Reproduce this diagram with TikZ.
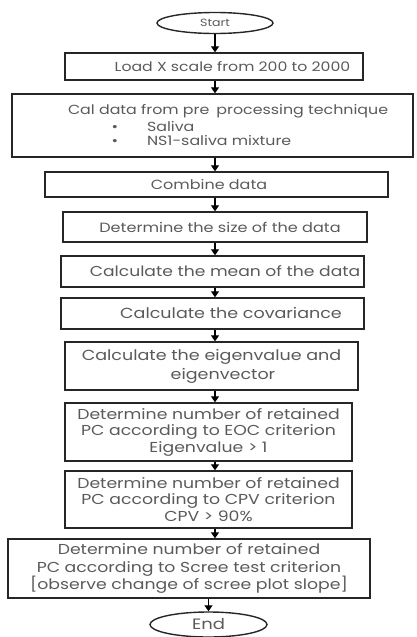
\documentclass[tikz,border=0pt]{standalone}
\usepackage{fontspec}
\setmainfont{Poppins}[FakeStretch=1.2]
\usetikzlibrary{arrows.meta,shapes.geometric}
\definecolor{txt}{HTML}{5A5A5A}
\tikzset{
  stepbox/.style={draw=black!85, line width=1.4pt, inner sep=0pt, align=center, text=txt},
  term/.style={ellipse, draw=black!85, line width=1.4pt, inner sep=0pt, text=txt},
  txtonly/.style={inner sep=0pt, outer sep=0pt, text=txt},
  flow/.style={line width=1.2pt, -{Triangle[width=8pt,length=6pt]}},
  fsz/.style={font={\fontsize{#1}{#1}\selectfont}},
  fsb/.style={font={\fontsize{14.4}{#1}\selectfont}},
}
\begin{document}
\begin{tikzpicture}[x=1pt,y=-1pt]
\useasboundingbox (0,0) rectangle (417,637);
\node[term, minimum width=116pt, minimum height=21pt, fsz=10.5] (start) at (215,23) {Start};
\node[stepbox, minimum width=298pt, minimum height=27pt, fsz=13.1] (load) at (214,66.5) {\hspace*{37pt}Load X scale from 200 to 2000};
\node[stepbox, minimum width=401pt, minimum height=63pt] (call) at (212.5,125.5) {};
\node[txtonly, fsz=13.2, anchor=base west] (c1) at (68,114.5) {Cal data from pre\hspace{7pt}processing technique};
\node[txtonly, fsz=13.2, anchor=base] (b1) at (115,131.5) {\textbullet};
\node[txtonly, fsz=13.2, anchor=base west] (c2) at (147,131.5) {Saliva};
\node[txtonly, fsz=13.2, anchor=base] (b2) at (115,145.5) {\textbullet};
\node[txtonly, fsz=13.2, anchor=base west] (c3) at (147,145.5) {NS1-saliva mixture};
\node[stepbox, minimum width=343pt, minimum height=25pt, fsz=13.3] (comb) at (216.5,184.5) {Combine data\hspace*{15pt}};
\node[stepbox, minimum width=304pt, minimum height=30pt, fsz=13.4] (size) at (215,227) {\hspace*{10pt}Determine the size of the data};
\node[stepbox, minimum width=303pt, minimum height=31pt, fsz=14.3] (mean) at (212.5,271.5) {\hspace*{25pt}Calculate the mean of the data};
\node[stepbox, minimum width=303pt, minimum height=31pt, fsz=14.6] (cov) at (212.5,313.5) {\hspace*{37pt}Calculate the covariance};
\node[stepbox, minimum width=293pt, minimum height=48pt, font={\fontsize{14.6}{19}\selectfont}] (eig) at (211.5,366) {Calculate the eigenvalue and\\\hspace*{23pt}eigenvector};
\node[stepbox, minimum width=287pt, minimum height=58pt, fsb=16.5] (eoc) at (208.5,432) {Determine number of retained\\PC according to EOC criterion\\Eigenvalue > 1};
\node[stepbox, minimum width=287pt, minimum height=57pt, fsb=16.5] (cpv) at (208.5,499.5) {Determine number of retained\\PC according to CPV criterion\\CPV > 90\%};
\node[stepbox, minimum width=362pt, minimum height=59pt, fsb=17.5] (scree) at (189,568.5) {Determine number of retained\\PC according to Scree test criterion\\{[}observe change of scree plot slope{]}};
\node[term, minimum width=117pt, minimum height=25pt, fsz=15] (end) at (208.5,624.5) {End};
\draw[flow] (start.south) -- (start.south |- load.north);
\draw[flow] (start |- load.south) -- (start |- call.north);
\draw[flow] (start |- call.south) -- (start |- comb.north);
\draw[flow] (start |- comb.south) -- (start |- size.north);
\draw[flow] (start |- size.south) -- (start |- mean.north);
\draw[flow] (start |- mean.south) -- (start |- cov.north);
\draw[flow] (start |- cov.south) -- (start |- eig.north);
\draw[flow] (start |- eig.south) -- (start |- eoc.north);
\draw[flow] (start |- eoc.south) -- (start |- cpv.north);
\draw[flow] (start |- cpv.south) -- (start |- scree.north);
\draw[flow] (end.north |- scree.south) -- (end.north);
\end{tikzpicture}
\end{document}
